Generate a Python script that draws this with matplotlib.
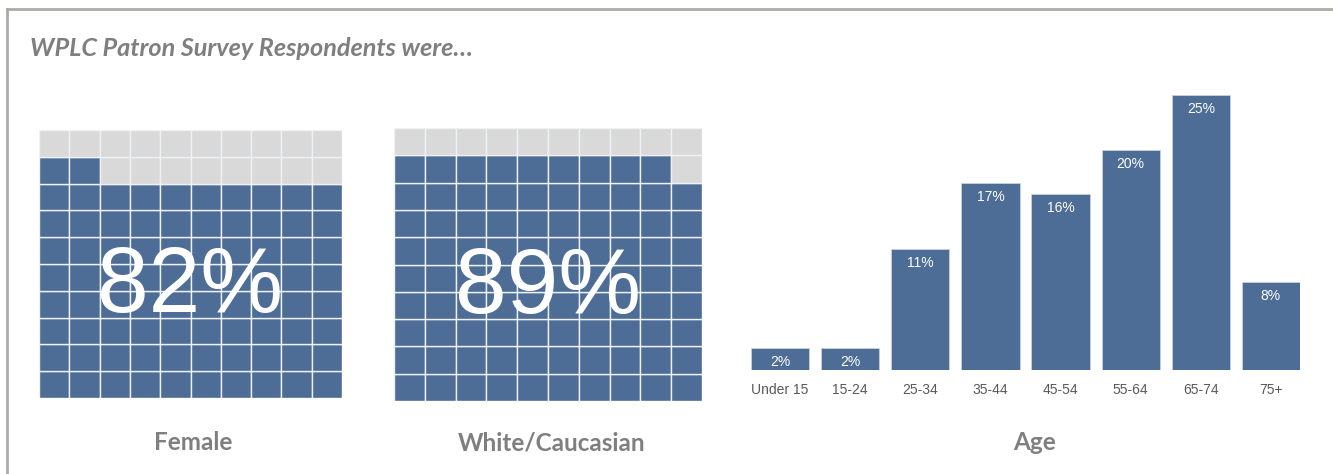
import matplotlib.pyplot as plt
from matplotlib.patches import Rectangle
from matplotlib.lines import Line2D

W, H = 1333, 474

female_pct = 82
white_pct = 89
age_groups = ["Under 15", "15-24", "25-34", "35-44", "45-54", "55-64", "65-74", "75+"]
age_pct = [2, 2, 11, 17, 16, 20, 25, 8]

BLUE = "#4d6d96"
GREY = "#d9d9d9"
TXT = "#7f7f7f"


def px_axes(fig, x0, y0, x1, y1):
    # pixel box (top-left origin) -> figure axes
    return fig.add_axes([x0 / W, 1 - y1 / H, (x1 - x0) / W, (y1 - y0) / H])


def waffle(ax, value):
    for k in range(100):
        row, col = divmod(k, 10)
        color = BLUE if k < value else GREY
        ax.add_patch(Rectangle((col, row), 1, 1, facecolor=color,
                               edgecolor="#eef1f5", linewidth=1.0))
    ax.set_xlim(0, 10)
    ax.set_ylim(0, 10)
    ax.axis("off")
    ax.text(5, 4.1, f"{value}%", color="white", fontsize=67,
            family="Liberation Sans", ha="center", va="center")


fig = plt.figure(figsize=(W / 100, H / 100), dpi=100)

# frame lines on top and left
fig.add_artist(Line2D([6.5 / W, 1], [1 - 8.5 / H, 1 - 8.5 / H], color="#aeaaaa", lw=2))
fig.add_artist(Line2D([6.5 / W, 6.5 / W], [0, 1 - 8.5 / H], color="#aeaaaa", lw=2))

fig.text(30 / W, 1 - 48 / H, "WPLC Patron Survey Respondents were…", color=TXT,
         fontsize=18.2, fontweight="bold", fontstyle="italic", family="Lato",
         ha="left", va="center")

ax1 = px_axes(fig, 39, 130, 342, 398)
waffle(ax1, female_pct)
ax2 = px_axes(fig, 394, 128, 702, 401)
waffle(ax2, white_pct)

ax3 = px_axes(fig, 751, 95, 1300, 370)
x = range(len(age_groups))
bars = ax3.bar(x, age_pct, width=0.83, color=BLUE, edgecolor="#c8d2df", linewidth=0.6)
for b, v in zip(bars, age_pct):
    ax3.annotate(f"{v}%", (b.get_x() + b.get_width() / 2, v), xytext=(0, -5),
                 textcoords="offset points", ha="center", va="top",
                 color="white", fontsize=10, family="Liberation Sans")
ax3.set_xlim(-0.415, 7.415)
ax3.set_ylim(0, 25)
ax3.set_xticks(list(x))
ax3.set_xticklabels(age_groups, color="#595959", fontsize=10, family="Liberation Sans")
ax3.tick_params(axis="x", length=0, pad=9)
ax3.set_yticks([])
for s in ax3.spines.values():
    s.set_visible(False)

for xc, label in [(193, "Female"), (552, "White/Caucasian"), (1035, "Age")]:
    fig.text(xc / W, 1 - 443 / H, label, color=TXT, fontsize=17.5,
             fontweight="bold", family="Lato", ha="center", va="center")

fig.savefig("out.png", dpi=100, facecolor="white")
